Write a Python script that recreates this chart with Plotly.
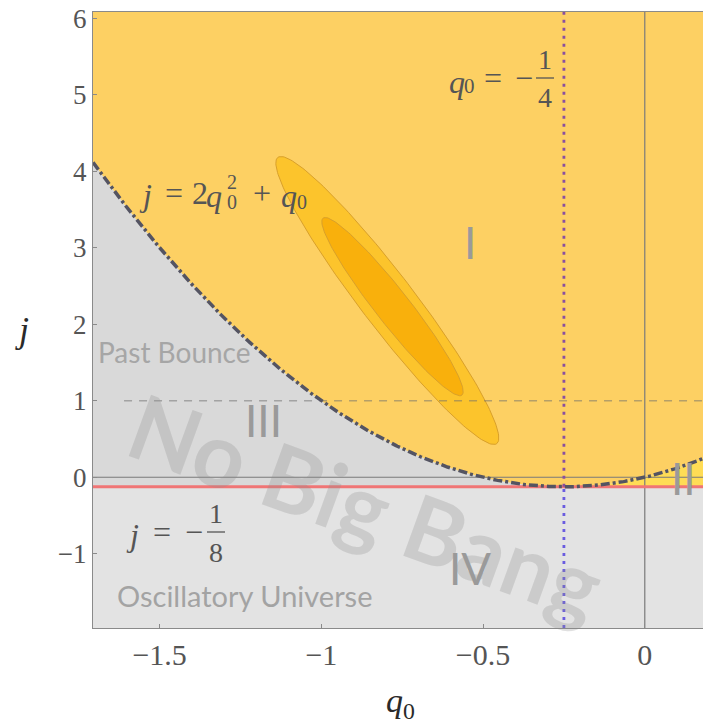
import numpy as np
import plotly.graph_objects as go

# axis extents
Q_RANGE = [-1.706, 0.18]
J_RANGE = [-1.97, 6.08]

# tick positions and labels
q_ticks = [-1.5, -1.0, -0.5, 0.0]
q_ticklabels = ["−1.5", "−1", "−0.5", "0"]
j_ticks = [-1, 0, 1, 2, 3, 4, 5, 6]
j_ticklabels = ["−1", "0", "1", "2", "3", "4", "5", "6"]

# special values
q_transition = -0.25      # q0 = -1/4
j_floor = -0.125          # j = -1/8
j_ref = 1.0               # LCDM jerk
j_ref_start = -1.61

# confidence contours: centre, major half-axis vector, minor half-axis vector
ell_outer_center = (-0.796, 2.31)
ell_outer_major = (0.3385, -1.87)
ell_outer_minor = (0.065, 0.211)
ell_inner_center = (-0.78, 2.23)
ell_inner_major = (0.2145, -1.157)
ell_inner_minor = (0.0417, 0.135)

# colours
C_REGION_I = "#FDD063"
C_REGION_II = "#FFDC55"
C_REGION_III = "#D9D9D9"
C_REGION_IV = "#E3E3E3"
C_OUTER = "#FCC42C"
C_INNER = "#F9B00C"
C_EDGE = "#D9A02A"

SERIF = "Liberation Serif, DejaVu Serif, serif"
SANS = "Lato, Open Sans, sans-serif"

# figure geometry (pixels)
W, H = 703, 724
M_L, M_R, M_T, M_B = 93, 0, 12, 96
PLOT_W = W - M_L - M_R
PLOT_H = H - M_T - M_B


def at(px, py):
    """Figure pixel position -> paper coordinates."""
    return (px - M_L) / PLOT_W, (H - M_B - py) / PLOT_H


def jerk_boundary(q):
    return 2 * q ** 2 + q


def ellipse(center, major, minor, n=200):
    t = np.linspace(0, 2 * np.pi, n)
    x = center[0] + np.cos(t) * major[0] + np.sin(t) * minor[0]
    y = center[1] + np.cos(t) * major[1] + np.sin(t) * minor[1]
    return x, y


q0, q1 = Q_RANGE
jb, jt = J_RANGE
qs = np.linspace(q0, q1, 500)
js = jerk_boundary(qs)

fig = go.Figure()

# region IV: below j = -1/8
fig.add_trace(go.Scatter(
    x=[q0, q1, q1, q0, q0], y=[jb, jb, j_floor, j_floor, jb],
    fill="toself", fillcolor=C_REGION_IV, mode="none", hoverinfo="skip"))

# region I: above the boundary curve
fig.add_trace(go.Scatter(
    x=np.concatenate([qs, [q1, q0, q0]]),
    y=np.concatenate([js, [jt, jt, js[0]]]),
    fill="toself", fillcolor=C_REGION_I, mode="none", hoverinfo="skip"))

# region II: under the curve, right of q0 = -1/4, above j = -1/8
q2 = np.linspace(q_transition, q1, 200)
fig.add_trace(go.Scatter(
    x=np.concatenate([q2, [q1, q_transition]]),
    y=np.concatenate([jerk_boundary(q2), [j_floor, j_floor]]),
    fill="toself", fillcolor=C_REGION_II, mode="none", hoverinfo="skip"))

# confidence contours
for c, M, m, col in [(ell_outer_center, ell_outer_major, ell_outer_minor, C_OUTER),
                     (ell_inner_center, ell_inner_major, ell_inner_minor, C_INNER)]:
    ex, ey = ellipse(c, M, m)
    fig.add_trace(go.Scatter(x=ex, y=ey, fill="toself", fillcolor=col,
                             mode="lines", line=dict(color=C_EDGE, width=1),
                             hoverinfo="skip"))

# axes through origin
fig.add_trace(go.Scatter(x=[q0, q1], y=[0, 0], mode="lines",
                         line=dict(color="#7A7A7A", width=1.2), hoverinfo="skip"))
fig.add_trace(go.Scatter(x=[0, 0], y=[jb, jt], mode="lines",
                         line=dict(color="#7A7A7A", width=1.2), hoverinfo="skip"))

# j = 1 reference
fig.add_trace(go.Scatter(x=[j_ref_start, q1], y=[j_ref, j_ref], mode="lines",
                         line=dict(color="rgba(110,110,110,0.5)", width=1.5, dash="8px,7px"),
                         hoverinfo="skip"))

# j = -1/8
fig.add_trace(go.Scatter(x=[q0, q1], y=[j_floor, j_floor], mode="lines",
                         line=dict(color="#F07575", width=3), hoverinfo="skip"))

# q0 = -1/4
fig.add_trace(go.Scatter(x=[q_transition, q_transition], y=[j_floor, jt], mode="lines",
                         line=dict(color="#8A4FA0", width=2.8, dash="3px,5px"), hoverinfo="skip"))
fig.add_trace(go.Scatter(x=[q_transition, q_transition], y=[jb, j_floor], mode="lines",
                         line=dict(color="#6A5CE0", width=2.8, dash="3px,5px"), hoverinfo="skip"))

# boundary j = 2 q0^2 + q0
fig.add_trace(go.Scatter(x=qs, y=js, mode="lines",
                         line=dict(color="#545462", width=3.5, dash="9px,3px,3px,3px"),
                         hoverinfo="skip"))

annotations = []
shapes = []


def label(px, py, text, size, color, family=SERIF, xanchor="center", angle=0):
    x, y = at(px, py)
    annotations.append(dict(xref="paper", yref="paper", x=x, y=y, text=text,
                            xanchor=xanchor, yanchor="middle", showarrow=False,
                            textangle=angle, font=dict(family=family, size=size, color=color)))


def frac_bar(px0, px1, py, color):
    x0, y0 = at(px0, py)
    x1, _ = at(px1, py)
    shapes.append(dict(type="line", xref="paper", yref="paper", x0=x0, x1=x1, y0=y0, y1=y0,
                       line=dict(color=color, width=1.3)))


# watermark
label(366, 505, "<b>No Big Bang</b>", 90, "rgba(140,140,140,0.27)", family=SANS, angle=20)

# region labels
grey_label = "#9A9A9A"
label(470, 242, "I", 44, grey_label, family=SANS)
label(263, 420, "III", 44, grey_label, family=SANS)
label(470, 568, "IV", 44, grey_label, family=SANS)
label(683, 478, "II", 44, grey_label, family=SANS)
label(96, 352, "Past Bounce", 28, "#A6A6A6", family=SANS, xanchor="left")
label(115, 595, "Oscillatory Universe", 29, "#A3A3A3", family=SANS, xanchor="left")

# formula: j = 2 q0^2 + q0
mc = "#555555"
label(145, 195, "<i>j</i>", 32, mc)
label(174, 193, "=", 32, mc)
label(200, 193, "2", 32, mc)
label(214, 196, "<i>q</i>", 32, mc)
label(232, 182, "2", 20, mc)
label(232, 202, "0", 20, mc)
label(262, 193, "+", 32, mc)
label(289, 196, "<i>q</i>", 32, mc)
label(302, 202, "0", 20, mc)

# formula: q0 = -1/4
label(457, 82, "<i>q</i>", 32, mc)
label(469, 86, "0", 21, mc)
label(493, 78, "=", 32, mc)
label(524, 78, "−", 32, mc)
label(545, 59, "1", 28, mc)
label(545, 97, "4", 28, mc)
frac_bar(536, 554, 78, mc)

# formula: j = -1/8
label(132, 535, "<i>j</i>", 32, mc)
label(162, 532, "=", 32, mc)
label(194, 532, "−", 32, mc)
label(216, 513, "1", 28, mc)
label(216, 552, "8", 28, mc)
frac_bar(207, 225, 532, mc)

# axis titles
label(400, 703, "<i>q</i><sub>0</sub>", 34, "#2A2A2A")
label(22, 330, "<i>j</i>", 36, "#2A2A2A")

fig.update_layout(
    width=W, height=H,
    margin=dict(l=M_L, r=M_R, t=M_T, b=M_B),
    paper_bgcolor="white", plot_bgcolor=C_REGION_III,
    showlegend=False,
    annotations=annotations, shapes=shapes,
    xaxis=dict(range=Q_RANGE, tickvals=q_ticks, ticktext=q_ticklabels,
               showgrid=False, zeroline=False, showline=True, mirror=True,
               linecolor="#8A8A8A", linewidth=1.2, ticks="inside", ticklen=4,
               tickcolor="#8A8A8A",
               tickfont=dict(family=SERIF, size=30, color="#555555")),
    yaxis=dict(range=J_RANGE, tickvals=j_ticks, ticktext=j_ticklabels,
               showgrid=False, zeroline=False, showline=True, mirror=True,
               linecolor="#8A8A8A", linewidth=1.2, ticks="inside", ticklen=4,
               tickcolor="#8A8A8A",
               tickfont=dict(family=SERIF, size=27, color="#555555")),
)

fig.write_html("out.html")
